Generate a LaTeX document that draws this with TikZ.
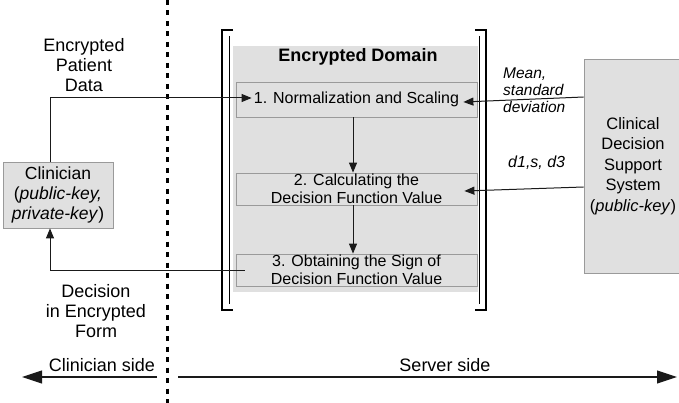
\documentclass[tikz,border=0pt]{standalone}
\usepackage{fontspec}
\setmainfont{Liberation Sans}
\usetikzlibrary{arrows.meta,calc}
\definecolor{boxfill}{HTML}{E0E0E0}
\definecolor{boxline}{HTML}{9A9A9A}
\definecolor{lnk}{HTML}{1A1A1A}
\tikzset{
  stepbox/.style={draw=boxline, fill=boxfill, line width=0.8pt, minimum width=241pt, inner sep=0pt, align=center, font=\fontsize{16}{18}\selectfont},
  brk/.style={line width=1.4pt, black},
  arr/.style={draw=lnk, line width=1pt, -{Triangle[length=10pt,width=8pt]}},
  bigarr/.style={draw=lnk, line width=1.1pt, -{Triangle[length=20pt,width=13pt]}},
  lbl/.style={align=center, inner sep=0pt, font=\fontsize{18}{20}\selectfont},
  itl/.style={align=left, inner sep=0pt, font=\fontsize{15.5}{17}\selectfont\itshape},
}
\begin{document}
\begin{tikzpicture}[x=1pt,y=-1pt]
\useasboundingbox (0,0) rectangle (679,403);
% encrypted domain background
\fill[boxfill] (233,46) rectangle (478,292);
% brackets
\draw[brk] (233,30) -- (222,30) -- (222,310) -- (233,310);
\draw[brk] (229.5,36) -- (229.5,304);
\draw[brk] (475,30) -- (486,30) -- (486,310) -- (475,310);
\draw[brk] (479.5,36) -- (479.5,304);
% divider
\draw[line width=3pt, dash pattern=on 5pt off 5.5pt] (167.5,0) -- (167.5,403);
% title
\node[inner sep=0pt, font=\fontsize{18}{20}\selectfont\bfseries] (title) at (358,57) {Encrypted Domain};
% steps
\node[stepbox, minimum height=35pt] (box1) at (356.5,99.5) {1. Normalization and Scaling};
\node[stepbox, minimum height=32pt] (box2) at (356.5,189) {2. Calculating the\\Decision Function Value};
\node[stepbox, minimum height=32pt] (box3) at (356.5,270) {3. Obtaining the Sign of\\Decision Function Value};
% clinician
\node[draw=boxline, fill=boxfill, line width=0.8pt, minimum width=110pt, minimum height=66pt, inner sep=0pt, align=center, font=\fontsize{17.5}{20}\selectfont] (clin) at (58,195) {Clinician\\(\textit{public-key,}\\\textit{private-key})};
% CDSS
\node[draw=boxline, fill=boxfill, line width=0.8pt, minimum width=98pt, minimum height=214pt, inner sep=0pt, align=center, font=\fontsize{16.5}{20.5}\selectfont] (cdss) at (633,166) {Clinical\\Decision\\Support\\System\\(\textit{public-key})};
% labels
\node[lbl] (lpat) at (84,65) {Encrypted\\Patient\\Data};
\node[lbl] (ldec) at (96,311) {Decision\\in Encrypted\\Form};
\node[itl, anchor=west] (lmean) at (503,90) {Mean,\\standard\\deviation};
\node[itl, anchor=west, font=\fontsize{16}{18}\selectfont\itshape] (ld) at (508,163) {d1,s, d3};
\node[lbl] (lcs) at (102,365) {Clinician side};
\node[lbl] (lss) at (445,365) {Server side};
% connectors
\coordinate (ctop) at ([xshift=-8pt]clin.north);
\coordinate (cbot) at ([xshift=-8pt]clin.south);
\draw[arr] (ctop) |- ([xshift=16pt,yshift=1.5pt]box1.west);
\draw[arr] ([xshift=9pt]box3.west) -| (cbot);
\draw[arr] ([xshift=-3.5pt]box1.south) -- ([xshift=-3.5pt]box2.north);
\draw[arr] ([xshift=-3.5pt]box2.south) -- ([xshift=-3.5pt]box3.north);
\draw[arr] (cdss.west |- 0,97) -- ([xshift=-14pt,yshift=-2.5pt]box1.east);
\draw[arr] (cdss.west |- 0,187) -- ([xshift=-13pt,yshift=-2pt]box2.east);
% sides
\coordinate (lsa) at (157,377);
\coordinate (lsb) at (22,377);
\coordinate (rsa) at (178,377);
\coordinate (rsb) at (677,377);
\draw[bigarr] (lsa) -- (lsb);
\draw[bigarr] (rsa) -- (rsb);
\end{tikzpicture}
\end{document}
